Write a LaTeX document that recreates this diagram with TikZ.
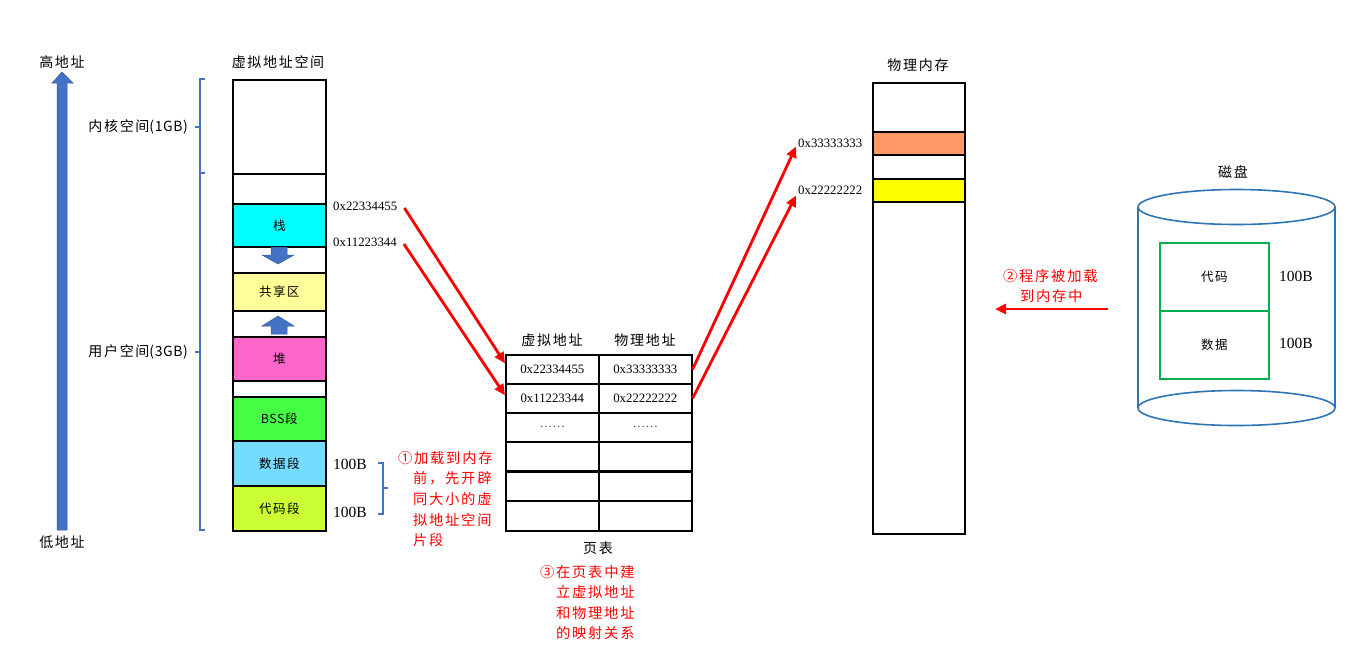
\documentclass[tikz,border=0pt]{standalone}
\usepackage{fontspec}
\setmainfont{Liberation Serif}
\newfontfamily\cjk[LetterSpace=12]{Noto Sans CJK SC}
\newfontfamily\cjkn[LetterSpace=4]{Noto Sans CJK SC}
\usetikzlibrary{arrows.meta}
\definecolor{bblue}{HTML}{4472C4}
\definecolor{dblue}{HTML}{2E75B6}
\definecolor{cyanc}{HTML}{00FFFF}
\definecolor{lyel}{HTML}{FFFF99}
\definecolor{pinkc}{HTML}{FF66CC}
\definecolor{greenc}{HTML}{44FF44}
\definecolor{lbluec}{HTML}{75DBFF}
\definecolor{limec}{HTML}{CCFF33}
\definecolor{orangec}{HTML}{FF9966}
\definecolor{yelc}{HTML}{FFFF00}
\definecolor{gboxc}{HTML}{00B050}
\begin{document}
\begin{tikzpicture}[x=1pt,y=-1pt,
  zh/.style={font=\cjk\fontsize{14}{16}\selectfont, inner sep=1pt},
  zhs/.style={font=\cjk\fontsize{12.5}{15}\selectfont, inner sep=1pt},
  red zh/.style={font=\cjk\fontsize{14.3}{16}\selectfont, text=red, inner sep=1pt, anchor=west},
  addr/.style={font=\fontsize{12.8}{14}\selectfont, inner sep=1pt},
  big/.style={font=\fontsize{15.5}{17}\selectfont, inner sep=1pt},
  seg/.style={draw=black, line width=1.6pt, minimum width=93pt, inner sep=0pt, anchor=north west, font=\cjk\fontsize{12.5}{15}\selectfont},
  cell/.style={draw=black, line width=1.6pt, minimum height=29pt, inner sep=0pt, anchor=north west, font=\fontsize{12.8}{14}\selectfont},
  redarrow/.style={draw=red, line width=2.8pt, -{Triangle[length=11pt,width=10pt]}},
  bracec/.style={draw=bblue, line width=1.6pt},
  blockarrow/.style={fill=bblue, draw=bblue!80!black, line width=0.5pt}
]
\useasboundingbox (0,0) rectangle (1357,657);

% left big arrow
\path[blockarrow] (57,530) -- (57,83) -- (52,83) -- (62,72) -- (73,83) -- (67,83) -- (67,530) -- cycle;
\node[zh] (hi) at (62,62) {高地址};
\node[zh] (lo) at (62,542) {低地址};

% braces
\draw[bracec] (205,79) -- (200,79) -- (200,173) -- (205,173);
\draw[bracec] (200,127) -- (195,127);
\draw[bracec] (205,173) -- (200,173) -- (200,530) -- (205,530);
\draw[bracec] (200,352) -- (195,352);
\node[zh, anchor=east] (kern) at (189,127) {内核空间{\cjkn\fontsize{14}{16}\selectfont(1GB)}};
\node[zh, anchor=east] (user) at (189,352) {用户空间{\cjkn\fontsize{14}{16}\selectfont(3GB)}};

% virtual address space
\node[zh] (vtitle) at (278,62) {虚拟地址空间};
\node[seg, minimum height=94pt] (k) at (232,79) {};
\node[seg, minimum height=30pt] (g1) at (232,173) {};
\node[seg, minimum height=43pt, fill=cyanc] (stack) at (232,203) {栈};
\node[seg, minimum height=26pt] (g2) at (232,246) {};
\node[seg, minimum height=38pt, fill=lyel] (shared) at (232,272) {共享区};
\node[seg, minimum height=26pt] (g3) at (232,310) {};
\node[seg, minimum height=44pt, fill=pinkc] (heap) at (232,336) {堆};
\node[seg, minimum height=16pt] (g4) at (232,380) {};
\node[seg, minimum height=44pt, fill=greenc, font=\cjkn\fontsize{12.5}{15}\selectfont] (bss) at (232,396) {BSS段};
\node[seg, minimum height=45pt, fill=lbluec] (data) at (232,440) {数据段};
\node[seg, minimum height=45pt, fill=limec] (code) at (232,485) {代码段};

% small block arrows
\path[blockarrow] (271,247) -- (287,247) -- (287,255) -- (294,255) -- (278,264) -- (262,255) -- (271,255) -- cycle;
\path[blockarrow] (271,334) -- (287,334) -- (287,326) -- (294,326) -- (278,316) -- (262,326) -- (271,326) -- cycle;

% address labels
\node[addr, anchor=west] (a1) at (332,206) {0x22334455};
\node[addr, anchor=west] (a2) at (332,242) {0x11223344};
\node[big, anchor=west] (s1) at (332,464) {100B};
\node[big, anchor=west] (s2) at (332,512) {100B};
\draw[bracec] (378,463) -- (383,463) -- (383,514) -- (378,514);
\draw[bracec] (383,488) -- (388,488);

% annotation 1
\node[red zh] (n1a) at (397,458) {①加载到内存};
\node[red zh] (n1b) at (412,478) {前，先开辟};
\node[red zh] (n1c) at (412,499) {同大小的虚};
\node[red zh] (n1d) at (412,520) {拟地址空间};
\node[red zh] (n1e) at (412,540) {片段};

% page table
\node[zh] (th1) at (552,340) {虚拟地址};
\node[zh] (th2) at (645,340) {物理地址};
\node[cell, minimum width=93pt] (c11) at (505,354) {0x22334455};
\node[cell, minimum width=93pt] (c12) at (598,354) {0x33333333};
\node[cell, minimum width=93pt] (c21) at (505,383) {0x11223344};
\node[cell, minimum width=93pt] (c22) at (598,383) {0x22222222};
\node[cell, minimum width=93pt, text=black!70] (c31) at (505,412) {……};
\node[cell, minimum width=93pt, text=black!70] (c32) at (598,412) {……};
\node[cell, minimum width=93pt] (c41) at (505,441) {};
\node[cell, minimum width=93pt] (c42) at (598,441) {};
\node[cell, minimum width=93pt] (c51) at (505,471) {};
\node[cell, minimum width=93pt] (c52) at (598,471) {};
\node[cell, minimum width=93pt, minimum height=30pt] (c61) at (505,500) {};
\node[cell, minimum width=93pt, minimum height=30pt] (c62) at (598,500) {};
\node[zh] (pt) at (598,548) {页表};
\node[red zh] (n3a) at (539,572) {③在页表中建};
\node[red zh] (n3b) at (555,592) {立虚拟地址};
\node[red zh] (n3c) at (555,613) {和物理地址};
\node[red zh] (n3d) at (555,633) {的映射关系};

% physical memory
\node[zh] (ptitle) at (918,65) {物理内存};
\node[seg, minimum width=92pt, minimum height=49pt] (m1) at (872,82) {};
\node[seg, minimum width=92pt, minimum height=23pt, fill=orangec] (m2) at (872,131) {};
\node[seg, minimum width=92pt, minimum height=24pt] (m3) at (872,154) {};
\node[seg, minimum width=92pt, minimum height=23pt, fill=yelc] (m4) at (872,178) {};
\node[seg, minimum width=92pt, minimum height=332pt] (m5) at (872,201) {};
\node[addr, anchor=west] (p1) at (797,143) {0x33333333};
\node[addr, anchor=west] (p2) at (797,190) {0x22222222};

% red arrows
\draw[redarrow] ([xshift=6pt,yshift=-2pt]a1.east) -- ([yshift=6pt]c11.west);
\draw[redarrow] ([xshift=6pt,yshift=-2pt]a2.east) -- ([yshift=3pt]c21.west);
\draw[redarrow] (c12.east) -- ([xshift=-1pt,yshift=2pt]p1.south west);
\draw[redarrow] (c22.east) -- ([xshift=-1pt,yshift=0pt]p2.south west);

% disk
\node[zh] (dtitle) at (1233,172) {磁盘};
\draw[dblue, line width=1.6pt] (1138,207) -- (1138,408);
\draw[dblue, line width=1.6pt] (1335,207) -- (1335,408);
\draw[dblue, line width=1.6pt] (1236.5,207) ellipse [x radius=98.5, y radius=17.5];
\draw[dblue, line width=1.6pt] (1236.5,408) ellipse [x radius=98.5, y radius=17.5];
\node[draw=gboxc, line width=1.6pt, minimum width=109pt, minimum height=68pt, anchor=north west, inner sep=0pt, zhs] (dcode) at (1159,242) {代码};
\node[draw=gboxc, line width=1.6pt, minimum width=109pt, minimum height=68pt, anchor=north west, inner sep=0pt, zhs] (ddata) at (1159,310) {数据};
\node[big, anchor=west] (d1) at (1278,276) {100B};
\node[big, anchor=west] (d2) at (1278,343) {100B};

% annotation 2
\node[red zh] (n2a) at (1002,276) {②程序被加载};
\node[red zh] (n2b) at (1019,296) {到内存中};
\coordinate (l2s) at (1108,309);
\coordinate (l2e) at (995,309);
\draw[redarrow] (l2s) -- (l2e);
\end{tikzpicture}
\end{document}
